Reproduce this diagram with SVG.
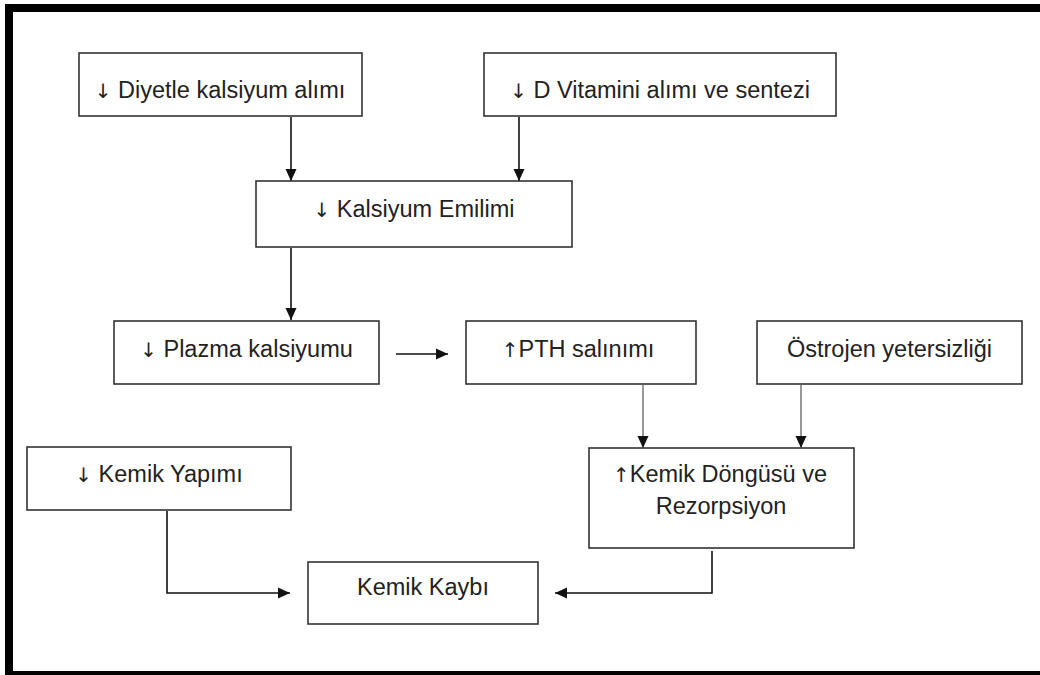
<svg xmlns="http://www.w3.org/2000/svg" width="1040" height="675" viewBox="0 0 1040 675">
<style>
.box{fill:#fff;stroke:#333;stroke-width:1.6}
.t{font-family:"Liberation Sans",Arial,sans-serif;font-size:23.5px;fill:#222;text-anchor:middle}
.a{font-family:"DejaVu Sans",sans-serif;font-size:20px;fill:#222}
.c{fill:none;stroke:#111;stroke-width:1.6}
.c2{fill:none;stroke:#444;stroke-width:1.1}
</style>
<defs>
<marker id="ah" viewBox="0 0 12 12" refX="12" refY="6" markerWidth="12" markerHeight="12" markerUnits="userSpaceOnUse" orient="auto">
<path d="M0,0.5 L12,6 L0,11.5 Z" fill="#111"/>
</marker>
<marker id="ah2" viewBox="0 0 12 12" refX="12" refY="6" markerWidth="14" markerHeight="12" markerUnits="userSpaceOnUse" orient="auto">
<path d="M0,0.5 L12,6 L0,11.5 Z" fill="#111"/>
</marker>
</defs>
<rect x="0" y="0" width="1040" height="675" fill="#fff"/>
<g id="frame" fill="#000">
<rect x="5" y="4" width="1035" height="8"/>
<rect x="5" y="4" width="8" height="671"/>
<rect x="5" y="671" width="1035" height="4"/>
</g>
<g id="connectors">
<path class="c" d="M291,117 V181" marker-end="url(#ah2)"/>
<path class="c" d="M519,117 V181" marker-end="url(#ah2)"/>
<path class="c" d="M291,248 V320" marker-end="url(#ah2)"/>
<path class="c" d="M396,354 H448" marker-end="url(#ah)"/>
<path class="c2" d="M643,385 V448" marker-end="url(#ah2)"/>
<path class="c2" d="M801,385 V448" marker-end="url(#ah2)"/>
<path class="c" d="M167,511 V593 H290" marker-end="url(#ah)"/>
<path class="c" d="M712,551 V593 H555" marker-end="url(#ah)"/>
</g>
<g id="n1"><rect class="box" x="79" y="53" width="283" height="63"/><text class="t" x="220" y="98"><tspan class="a">↓</tspan> Diyetle kalsiyum alımı</text></g>
<g id="n2"><rect class="box" x="484" y="53" width="352" height="63"/><text class="t" x="660" y="98"><tspan class="a">↓</tspan> D Vitamini alımı ve sentezi</text></g>
<g id="n3"><rect class="box" x="256" y="181" width="316" height="66"/><text class="t" x="414" y="217"><tspan class="a">↓</tspan> Kalsiyum Emilimi</text></g>
<g id="n4"><rect class="box" x="114" y="321" width="265" height="63"/><text class="t" x="246.5" y="357"><tspan class="a">↓</tspan> Plazma kalsiyumu</text></g>
<g id="n5"><rect class="box" x="466" y="321" width="230" height="63"/><text class="t" x="578" y="357"><tspan class="a">↑</tspan>PTH salınımı</text></g>
<g id="n6"><rect class="box" x="757" y="321" width="265" height="63"/><text class="t" x="889.5" y="357">Östrojen yetersizliği</text></g>
<g id="n7"><rect class="box" x="27" y="447" width="264" height="63"/><text class="t" x="159" y="482"><tspan class="a">↓</tspan> Kemik Yapımı</text></g>
<g id="n8"><rect class="box" x="589" y="448" width="265" height="100"/><text class="t" x="720" y="482"><tspan class="a">↑</tspan>Kemik Döngüsü ve</text><text class="t" x="721" y="514">Rezorpsiyon</text></g>
<g id="n9"><rect class="box" x="308" y="562" width="230" height="62"/><text class="t" x="423" y="595">Kemik Kaybı</text></g>
</svg>
